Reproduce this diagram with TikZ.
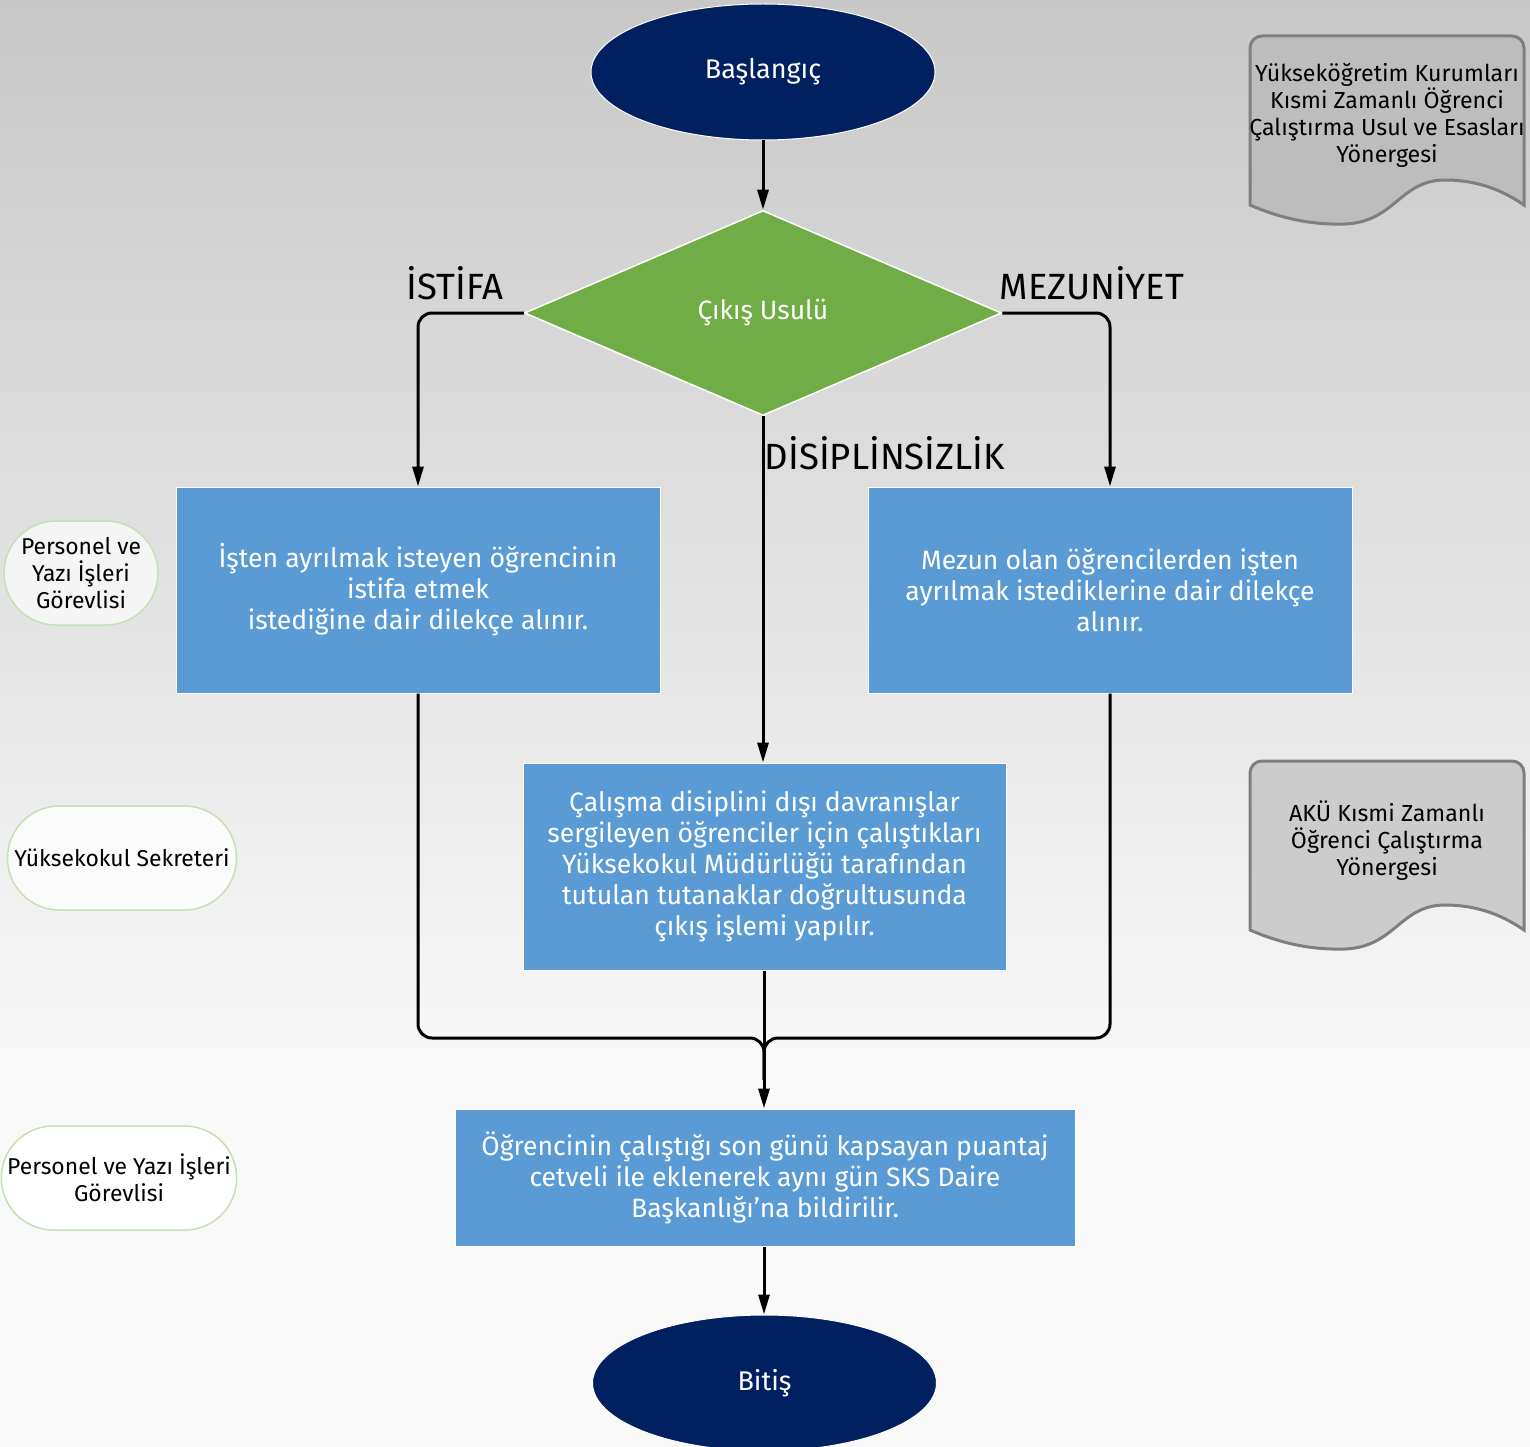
\documentclass[tikz,border=0pt]{standalone}
\usepackage{fontspec}
\setmainfont{Fira Sans}
\usetikzlibrary{shapes.geometric,shapes.misc,arrows.meta}
\definecolor{navy}{HTML}{002060}
\definecolor{boxblue}{HTML}{5B9BD5}
\definecolor{dgreen}{HTML}{70AD47}
\definecolor{bgtop}{HTML}{C8C8C8}
\definecolor{bgbot}{HTML}{F9F9F9}
\definecolor{pillborder}{HTML}{C5E0B4}
\definecolor{docborder}{HTML}{7F7F7F}
\tikzset{
  terminal/.style={ellipse, fill=navy, draw=white, line width=1pt, minimum width=344pt, minimum height=136pt, inner sep=0pt, text=white, font=\fontsize{27}{32}\selectfont},
  decision/.style={diamond, fill=dgreen, draw=white, line width=1.5pt, minimum width=477pt, minimum height=205pt, inner sep=0pt, text=white, font=\fontsize{26.5}{31}\selectfont},
  process/.style={rectangle, fill=boxblue, draw=white, line width=1pt, inner sep=0pt, text=white, align=center, font=\fontsize{26.6}{31}\selectfont},
  pill/.style={rounded rectangle, fill=#1, draw=pillborder, line width=1.5pt, inner sep=0pt, align=center, font=\fontsize{22.9}{27}\selectfont},
  doctext/.style={align=center, font=\fontsize{23.2}{27}\selectfont, inner sep=0pt},
  docshape/.style={fill=#1, draw=docborder, line width=3pt},
  branch/.style={font=\fontsize{36.5}{40}\selectfont, inner sep=0pt},
  conn/.style={line width=3pt, rounded corners=14pt},
  arr/.style={conn, -{Triangle[width=11pt,length=20pt]}},
}
\begin{document}
\begin{tikzpicture}[x=1pt,y=-1pt]
\useasboundingbox (0,0) rectangle (1530,1447);
\shade[top color=bgtop, bottom color=bgbot] (0,0) rectangle (1530,1080);
\fill[bgbot] (0,1080) rectangle (1530,1447);

% documents
\filldraw[docshape=gray!52] (1250,205) [rounded corners=12pt] -- (1250,36) -- (1524,36) [sharp corners] -- (1524,205)
  .. controls (1505,192) and (1480,180) .. (1445,180)
  .. controls (1400,180) and (1395,222) .. (1345,224)
  .. controls (1310,225) and (1280,218) .. (1250,205) -- cycle;
\node[doctext] (doc1) at (1387,115) {Yükseköğretim Kurumları\\Kısmi Zamanlı Öğrenci\\Çalıştırma Usul ve Esasları\\Yönergesi};

\filldraw[docshape=gray!40] (1250,930) [rounded corners=12pt] -- (1250,761) -- (1524,761) [sharp corners] -- (1524,930)
  .. controls (1505,917) and (1480,905) .. (1445,905)
  .. controls (1400,905) and (1395,947) .. (1345,949)
  .. controls (1310,950) and (1280,943) .. (1250,930) -- cycle;
\node[doctext] (doc2) at (1387,841) {AKÜ Kısmi Zamanlı\\Öğrenci Çalıştırma\\Yönergesi};

% pills
\node[pill=gray!8, minimum width=154pt, minimum height=104pt] (p1) at (81,573) {Personel ve\\Yazı İşleri\\Görevlisi};
\node[pill=white!97!gray, minimum width=229pt, minimum height=104pt] (p2) at (122,858) {Yüksekokul Sekreteri};
\node[pill=white, minimum width=230pt, minimum height=104pt] (p3) at (119,1178) {Personel ve Yazı İşleri\\Görevlisi};

% main flow
\node[terminal] (start) at (763,72) {Başlangıç};
\node[decision] (dec) at (763,313) {Çıkış Usulü};
\node[process, minimum width=484pt, minimum height=206pt] (b1) at (418,590) {İşten ayrılmak isteyen öğrencinin\\istifa etmek\\istediğine dair dilekçe alınır.};
\node[process, minimum width=484pt, minimum height=206pt] (b2) at (1110,590) {Mezun olan öğrencilerden işten\\ayrılmak istediklerine dair dilekçe\\alınır.};
\node[process, minimum width=483pt, minimum height=207pt] (b3) at (764.5,866.5) {Çalışma disiplini dışı davranışlar\\sergileyen öğrenciler için çalıştıkları\\Yüksekokul Müdürlüğü tarafından\\tutulan tutanaklar doğrultusunda\\çıkış işlemi yapılır.};
\node[process, minimum width=620pt, minimum height=137pt] (b4) at (765,1177.5) {Öğrencinin çalıştığı son günü kapsayan puantaj\\cetveli ile eklenerek aynı gün SKS Daire\\Başkanlığı’na bildirilir.};
\node[terminal] (end) at (764.5,1383) {Bitiş};

\node[branch] (l1) at (455,283) {İSTİFA};
\node[branch] (l2) at (1092,283) {MEZUNİYET};
\node[branch] (l3) at (885,453) {DİSİPLİNSİZLİK};

\draw[arr] (start) -- (dec);
\draw[arr] (dec.west) -| (b1.north);
\draw[arr] (dec.east) -| (b2.north);
\draw[arr] (dec.south) -- (b3.north -| dec.south);
\coordinate (m) at (764,1038);
\coordinate (mm) at (764,1080);
\draw[conn] (b1.south) |- (m) -- (mm);
\draw[conn] (b2.south) |- (m) -- (mm);
\draw[arr] (b3.south -| m) -- (b4.north -| m);
\draw[arr] (b4.south -| m) -- (end.north -| m);
\end{tikzpicture}
\end{document}
